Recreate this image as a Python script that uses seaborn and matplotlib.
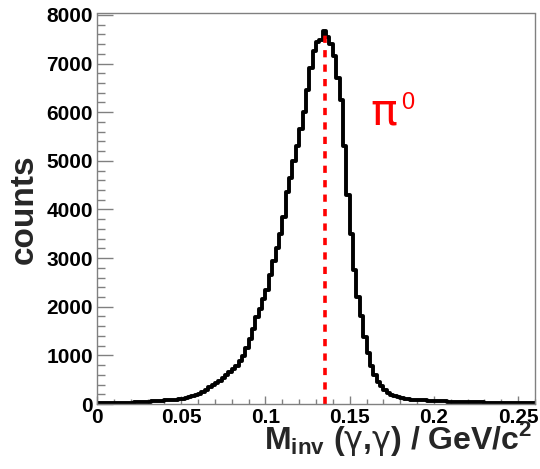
import numpy as np
import pandas as pd
import matplotlib
matplotlib.use("Agg")
import matplotlib.pyplot as plt
import seaborn as sns
from matplotlib.ticker import FixedLocator, FixedFormatter, MultipleLocator

# ---------------- data ----------------
mass_min, mass_max = 0.0, 0.26
counts = [
    12, 12, 14, 15, 16, 18, 20, 22, 25, 27,
    30, 33, 36, 40, 44, 48, 52, 57, 62, 68,
    74, 80, 86, 92, 98, 108, 122, 140, 160, 180,
    205, 245, 290, 340, 395, 440, 480, 530, 590, 650,
    710, 790, 880, 990, 1150, 1330, 1550, 1780, 1950, 2150,
    2350, 2650, 2950, 3200, 3500, 3850, 4350, 4650, 5000, 5300,
    5650, 6000, 6450, 6900, 7250, 7450, 7480, 7660, 7550, 7400,
    7150, 6700, 6250, 5300, 4300, 3500, 2750, 2200, 1800, 1380,
    1050, 780, 600, 460, 360, 290, 235, 195, 165, 145,
    125, 110, 100, 92, 86, 80, 76, 72, 68, 65,
    62, 59, 56, 53, 50, 48, 46, 44, 42, 40,
    38, 36, 35, 33, 32, 30, 29, 28, 27, 26,
    25, 24, 23, 22, 22, 21, 20, 20, 19, 19,
]
pi0_mass = 0.1355
x_ticks = [0, 0.05, 0.1, 0.15, 0.2, 0.25]
x_tick_labels = ["0", "0.05", "0.1", "0.15", "0.2", "0.25"]
y_ticks = [0, 1000, 2000, 3000, 4000, 5000, 6000, 7000, 8000]
y_tick_labels = ["0", "1000", "2000", "3000", "4000", "5000", "6000", "7000", "8000"]

edges = np.linspace(mass_min, mass_max, len(counts) + 1)
centers = (edges[:-1] + edges[1:]) / 2
df = pd.DataFrame({"mass": centers, "counts": np.asarray(counts, dtype=float)})

# ---------------- style ----------------
sns.set_style("ticks")
plt.rcParams["font.family"] = ["Liberation Sans", "DejaVu Sans"]
plt.rcParams["mathtext.fontset"] = "custom"
plt.rcParams["mathtext.rm"] = "Liberation Sans:bold"
plt.rcParams["mathtext.it"] = "DejaVu Sans"
plt.rcParams["mathtext.bf"] = "Liberation Sans:bold"

fig = plt.figure(figsize=(5.4, 4.69), dpi=100)
ax = fig.add_axes([97 / 540, 65 / 469, 438 / 540, 390.5 / 469])

sns.histplot(data=df, x="mass", weights="counts", bins=len(counts),
             binrange=(mass_min, mass_max), element="step",
             fill=False, color="black", linewidth=2.8, ax=ax)

ax.plot([pi0_mass, pi0_mass], [0, max(counts)], color="red",
        linestyle=(0, (2, 2)), linewidth=2.6)

ax.text(0.1622, 5740, "\u03c0", color="red", fontsize=32,
        family="DejaVu Sans", ha="left", va="baseline")
ax.text(0.1808, 6060, "0", color="red", fontsize=17,
        ha="left", va="baseline")

ax.set_xlim(mass_min, mass_max)
ax.set_ylim(0, 8030)

ax.xaxis.set_major_locator(FixedLocator(x_ticks))
ax.xaxis.set_major_formatter(FixedFormatter(x_tick_labels))
ax.xaxis.set_minor_locator(MultipleLocator(0.01))
ax.yaxis.set_major_locator(FixedLocator(y_ticks))
ax.yaxis.set_major_formatter(FixedFormatter(y_tick_labels))
ax.yaxis.set_minor_locator(MultipleLocator(200))

grey = "#808080"
for s in ax.spines.values():
    s.set_color(grey)
    s.set_linewidth(1.0)

ax.tick_params(axis="both", which="both", direction="in", color=grey,
               labelcolor="black", top=False, right=False, width=1.0)
ax.tick_params(axis="y", which="major", length=11.5, pad=3, labelsize=15)
ax.tick_params(axis="y", which="minor", length=5.8)
ax.tick_params(axis="x", which="major", length=5.8, pad=3, labelsize=15)
ax.tick_params(axis="x", which="minor", length=3.6)
for lab in ax.get_xticklabels() + ax.get_yticklabels():
    lab.set_fontweight("bold")

ax.set_ylabel("counts", fontsize=24, fontweight="bold")
ax.yaxis.label.set_verticalalignment("center")
ax.yaxis.set_label_coords(-0.167, 0.5)

ax.set_xlabel(r"M$_{\mathrm{inv}}$ ($\gamma$,$\gamma$) / GeV/c$^{\mathrm{2}}$",
              fontsize=23, fontweight="bold")
ax.xaxis.label.set_horizontalalignment("right")
ax.xaxis.label.set_verticalalignment("baseline")
ax.xaxis.set_label_coords(0.995, -0.115)

fig.savefig("out.png", dpi=100)
